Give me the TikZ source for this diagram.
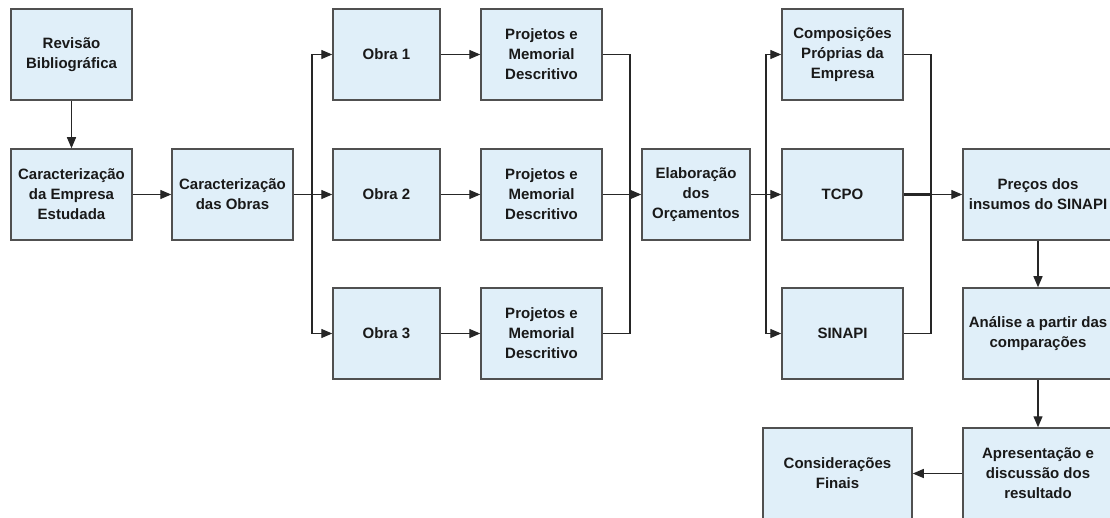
\documentclass[tikz,border=0pt]{standalone}
\usepackage{fontspec}
\setmainfont{Liberation Sans}
\usetikzlibrary{arrows.meta}
\definecolor{boxfill}{RGB}{224,239,249}
\definecolor{boxline}{RGB}{80,80,80}
\definecolor{txt}{RGB}{25,25,25}
\tikzset{
  stepbox/.style={draw=boxline, line width=1.5pt, fill=boxfill, minimum height=91pt,
    align=center, inner sep=2pt, text=txt,
    font=\fontsize{15}{20}\selectfont\bfseries},
  conn/.style={draw=black!85, line width=1.3pt},
  arr/.style={conn, -{Triangle[length=11pt,width=9pt]}}
}
\begin{document}
\begin{tikzpicture}[x=1pt,y=-1pt]
\clip (0,0) rectangle (1110,518);
\fill[white] (0,0) rectangle (1110,518);
% nodes
\node[stepbox, minimum width=121pt] (rev) at (71.5,54.5) {Revisão\\Bibliográfica};
\node[stepbox, minimum width=121pt] (emp) at (71.5,194.5) {Caracterização\\da Empresa\\Estudada};
\node[stepbox, minimum width=121pt] (obras) at (232.5,194.5) {Caracterização\\das Obras};
\node[stepbox, minimum width=107pt] (ob1) at (386.5,54.5) {Obra 1};
\node[stepbox, minimum width=107pt] (ob2) at (386.5,194.5) {Obra 2};
\node[stepbox, minimum width=107pt] (ob3) at (386.5,333.5) {Obra 3};
\node[stepbox, minimum width=121pt] (pj1) at (541.5,54.5) {Projetos e\\Memorial\\Descritivo};
\node[stepbox, minimum width=121pt] (pj2) at (541.5,194.5) {Projetos e\\Memorial\\Descritivo};
\node[stepbox, minimum width=121pt] (pj3) at (541.5,333.5) {Projetos e\\Memorial\\Descritivo};
\node[stepbox, minimum width=108pt] (elab) at (696,194.5) {Elaboração\\dos\\Orçamentos};
\node[stepbox, minimum width=121pt] (comp) at (842.5,54.5) {Composições\\Próprias da\\Empresa};
\node[stepbox, minimum width=121pt] (tcpo) at (842.5,194.5) {TCPO};
\node[stepbox, minimum width=121pt] (sin) at (842.5,333.5) {SINAPI};
\node[stepbox, minimum width=150pt] (prec) at (1038,194.5) {Preços dos\\insumos do SINAPI};
\node[stepbox, minimum width=150pt] (anal) at (1038,333.5) {Análise a partir das\\comparações};
\node[stepbox, minimum width=150pt] (apres) at (1038,473.5) {Apresentação e\\discussão dos\\resultado};
\node[stepbox, minimum width=149pt] (cons) at (837.5,473.5) {Considerações\\Finais};
% junction coordinates
\coordinate (j1) at (312,194.5);
\coordinate (j2) at (630,194.5);
\coordinate (j3) at (766,194.5);
\coordinate (j4) at (931,194.5);
% connectors
\draw[arr] (rev) -- (emp);
\draw[arr] (emp) -- (obras);
\draw[conn] (obras.east) -- (j1);
\draw[arr] (j1) |- (ob1.west);
\draw[arr] (j1) -- (ob2.west);
\draw[arr] (j1) |- (ob3.west);
\draw[arr] (ob1) -- (pj1);
\draw[arr] (ob2) -- (pj2);
\draw[arr] (ob3) -- (pj3);
\draw[conn] (pj1.east) -| (j2);
\draw[conn] (pj3.east) -| (j2);
\draw[conn, line width=1.8pt] (pj2.east) -- (j2);
\draw[arr] (j2) -- (elab.west);
\draw[conn] (elab.east) -- (j3);
\draw[arr] (j3) |- (comp.west);
\draw[arr] (j3) -- (tcpo.west);
\draw[arr] (j3) |- (sin.west);
\draw[conn] (comp.east) -| (j4);
\draw[conn] (sin.east) -| (j4);
\draw[conn, line width=2.2pt] (tcpo.east) -- (j4);
\draw[arr] (j4) -- (prec.west);
\draw[arr] (prec) -- (anal);
\draw[arr] (anal) -- (apres);
\draw[arr] (apres) -- (cons);
\end{tikzpicture}
\end{document}
